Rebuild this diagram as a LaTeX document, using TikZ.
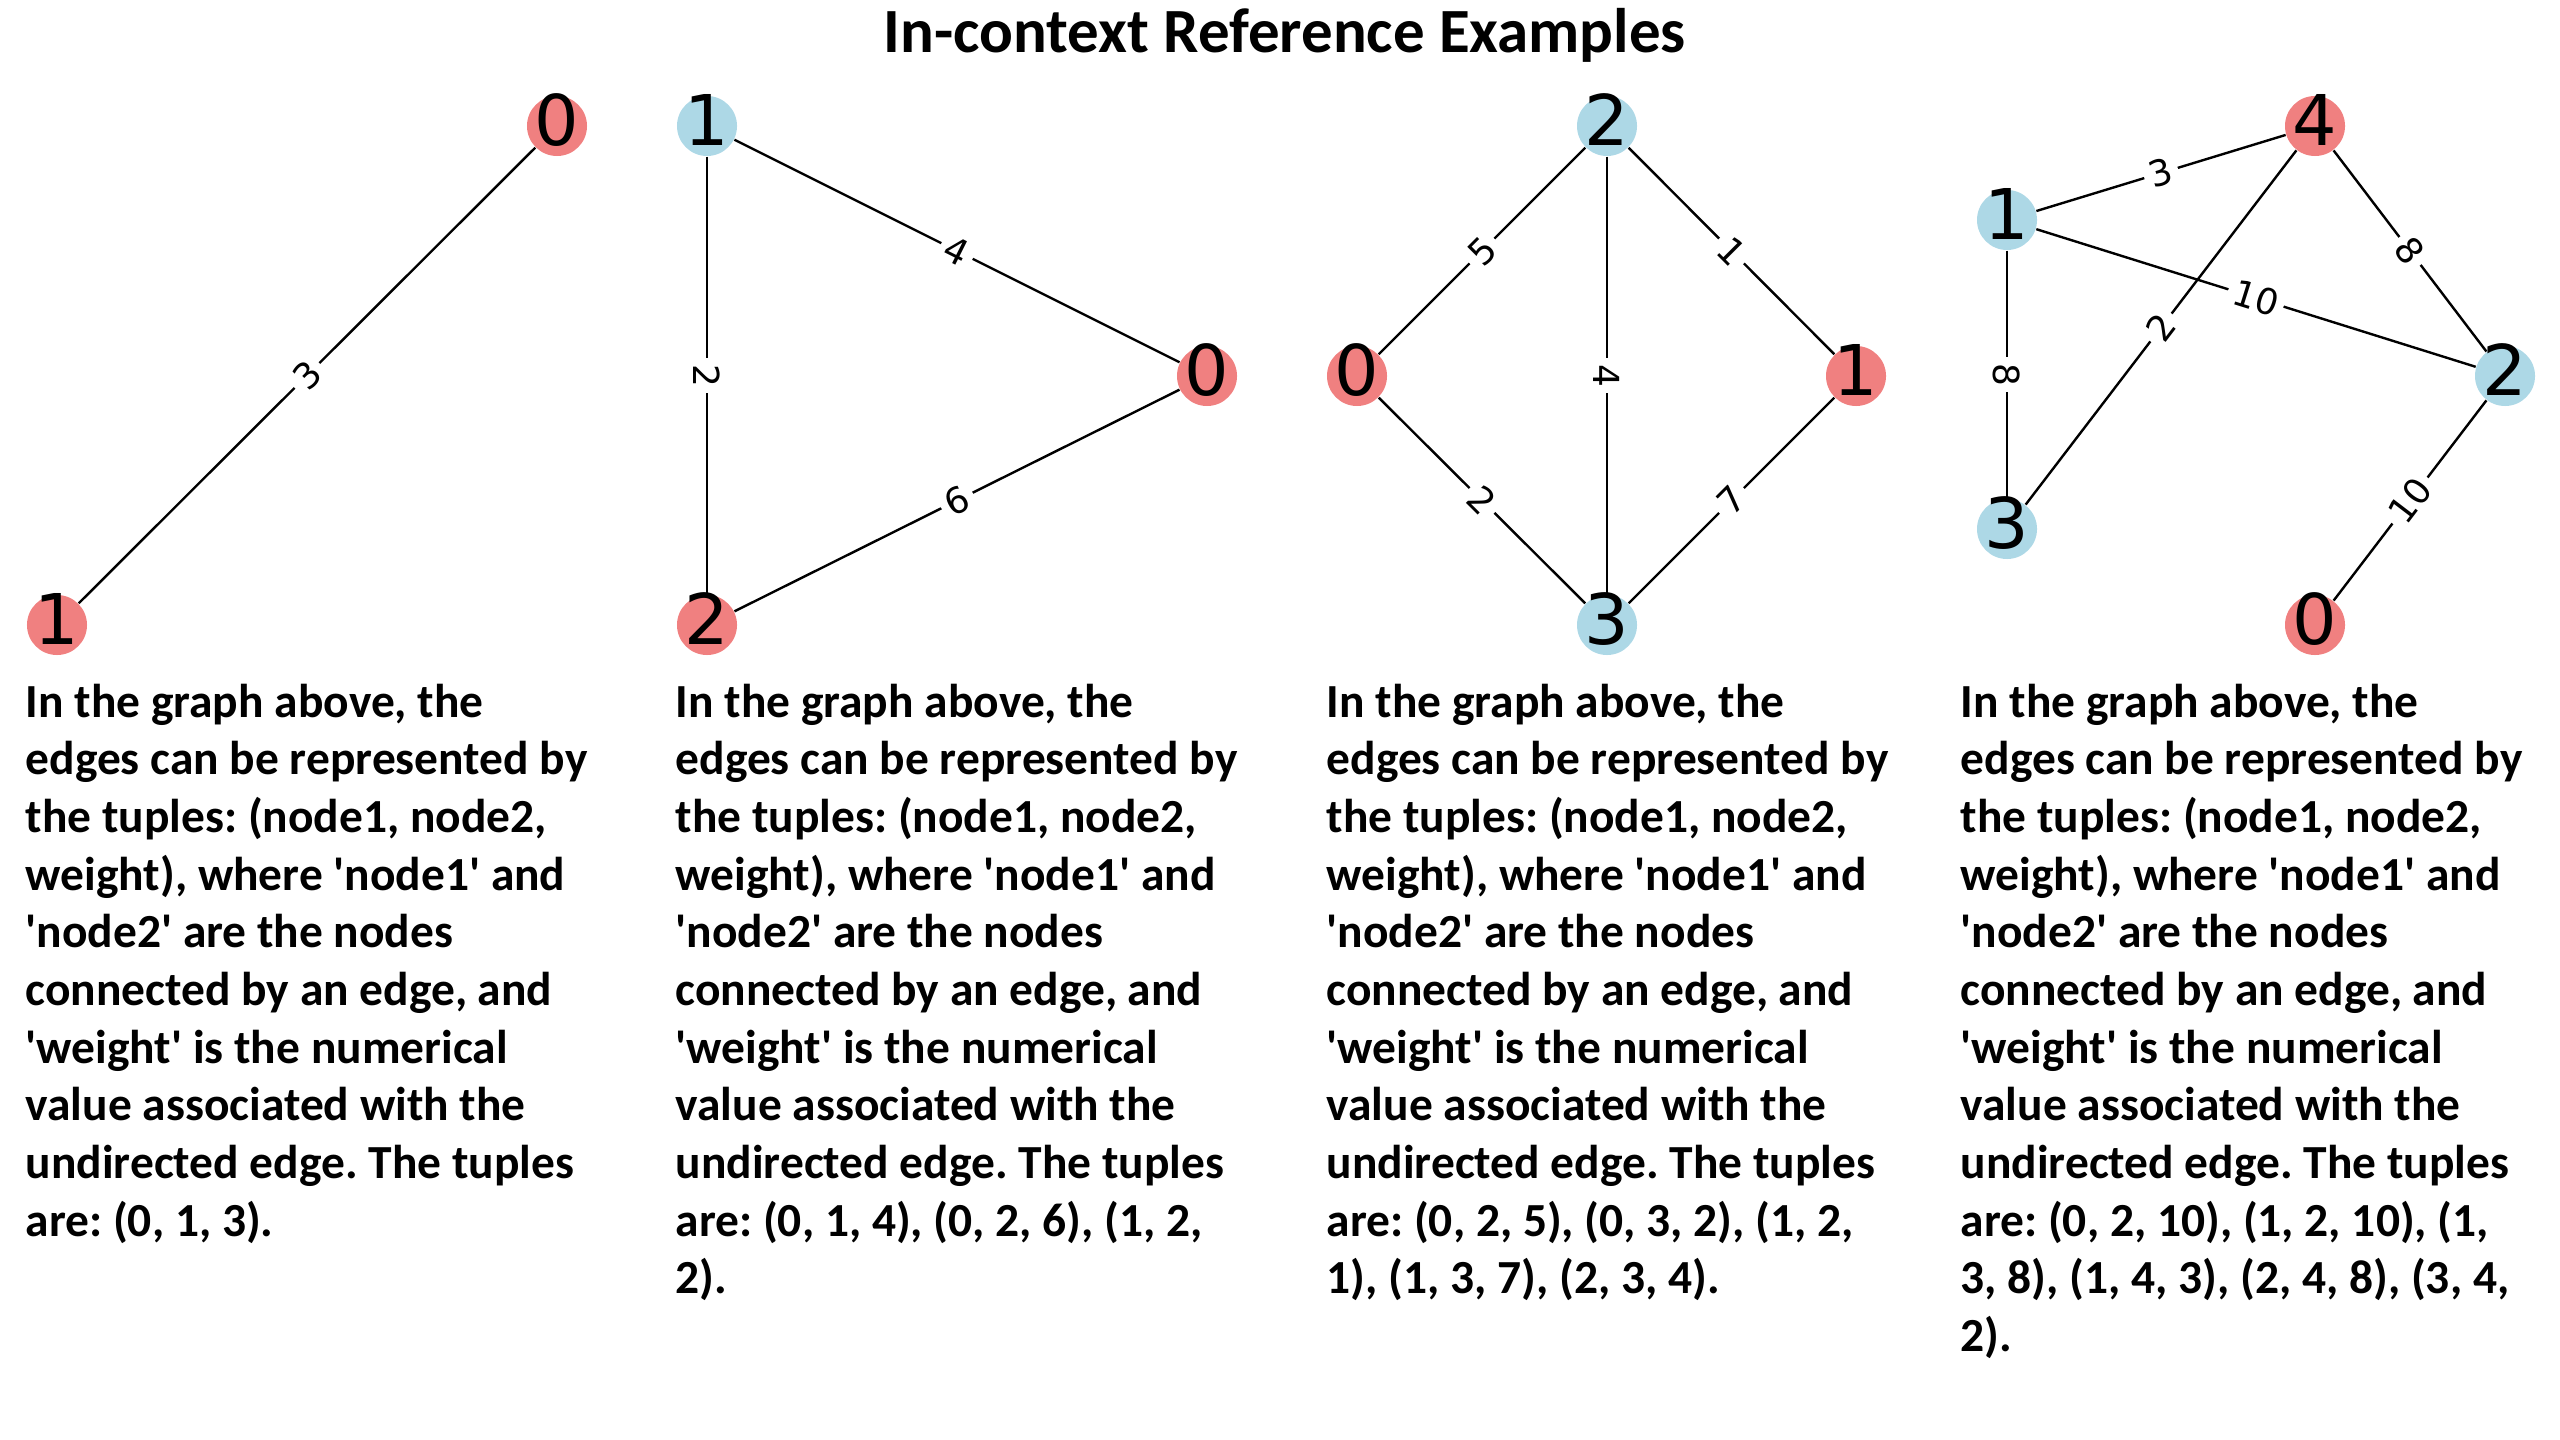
\documentclass[tikz,border=0pt]{standalone}
\usepackage{fontspec}
\usepackage{xcolor}
\usepackage{tikz}
\usetikzlibrary{positioning}
\newfontfamily\dejavu{DejaVu Sans}
\newfontfamily\carlito{Carlito}[Ligatures=TeXOff]
\definecolor{vred}{HTML}{F08080}
\definecolor{vblue}{HTML}{ADD8E6}
\frenchspacing
\newcommand{\tupletext}{In the graph above, the\\
edges can be represented by\\
the tuples: (node1, node2,\\
weight), where 'node1' and\\
'node2' are the nodes\\
connected by an edge, and\\
'weight' is the numerical\\
value associated with the\\
undirected edge. The tuples\\}

\begin{document}
\begin{tikzpicture}[x=0.01cm,y=-0.01cm,
	redv/.style={circle,fill=vred,minimum size=0.6cm,inner sep=0pt},
	bluev/.style={circle,fill=vblue,minimum size=0.6cm,inner sep=0pt},
	num/.style={font=\dejavu\fontsize{19.9}{22}\selectfont,inner sep=0pt,yshift=0.06cm},
	wlab/.style={sloped,fill=white,inner sep=0.06cm,font=\dejavu\fontsize{10.2}{12}\selectfont},
	edge/.style={line width=0.024cm,black},
	caption/.style={anchor=north west,align=left,inner sep=0pt,
		font=\carlito\bfseries\fontsize{13.5}{16.4}\selectfont}]
	\useasboundingbox (0,0) rectangle (2560,1440);
	\node[font=\carlito\bfseries\fontsize{17.9}{20}\selectfont,anchor=base] (title) at (1285,53) {In-context Reference Examples};
	% first graph
	\node[redv,label={[num]center:0}] (a0) at (557,126) {};
	\node[redv,label={[num]center:1}] (a1) at (57,625) {};
	\draw[edge] (a1) -- node[wlab]{3} (a0);
	\node[caption] (ta) at (25,683) {\tupletext are: (0, 1, 3).};
	% second graph
	\node[bluev,label={[num]center:1}] (b1) at (707,126) {};
	\node[redv,label={[num]center:0}] (b0) at (1207,376) {};
	\node[redv,label={[num]center:2}] (b2) at (707,625) {};
	\draw[edge] (b1) -- node[wlab]{4} (b0);
	\draw[edge] (b2) -- node[wlab]{6} (b0);
	\draw[edge] (b1) -- node[wlab]{2} (b2);
	\node[caption] (tb) at (675,683) {\tupletext are: (0, 1, 4), (0, 2, 6), (1, 2,\\ 2).};
	% third graph
	\node[bluev,label={[num]center:2}] (c2) at (1607,126) {};
	\node[redv,label={[num]center:0}] (c0) at (1357,376) {};
	\node[redv,label={[num]center:1}] (c1) at (1856,376) {};
	\node[bluev,label={[num]center:3}] (c3) at (1607,625) {};
	\draw[edge] (c0) -- node[wlab]{5} (c2);
	\draw[edge] (c2) -- node[wlab]{1} (c1);
	\draw[edge] (c2) -- node[wlab]{4} (c3);
	\draw[edge] (c0) -- node[wlab]{2} (c3);
	\draw[edge] (c3) -- node[wlab]{7} (c1);
	\node[caption] (tc) at (1326,683) {\tupletext are: (0, 2, 5), (0, 3, 2), (1, 2,\\ 1), (1, 3, 7), (2, 3, 4).};
	% fourth graph
	\node[redv,label={[num]center:4}] (d4) at (2315,126) {};
	\node[bluev,label={[num]center:1}] (d1) at (2007,220) {};
	\node[bluev,label={[num]center:2}] (d2) at (2505,376) {};
	\node[bluev,label={[num]center:3}] (d3) at (2007,529) {};
	\node[redv,label={[num]center:0}] (d0) at (2315,625) {};
	\draw[edge] (d1) -- node[wlab]{3} (d4);
	\draw[edge] (d4) -- node[wlab]{8} (d2);
	\draw[edge] (d1) -- node[wlab]{10} (d2);
	\draw[edge] (d3) -- node[wlab]{2} (d4);
	\draw[edge] (d1) -- node[wlab]{8} (d3);
	\draw[edge] (d0) -- node[wlab]{10} (d2);
	\node[caption] (td) at (1960,683) {\tupletext are: (0, 2, 10), (1, 2, 10), (1,\\ 3, 8), (1, 4, 3), (2, 4, 8), (3, 4,\\ 2).};
\end{tikzpicture}
\end{document}
